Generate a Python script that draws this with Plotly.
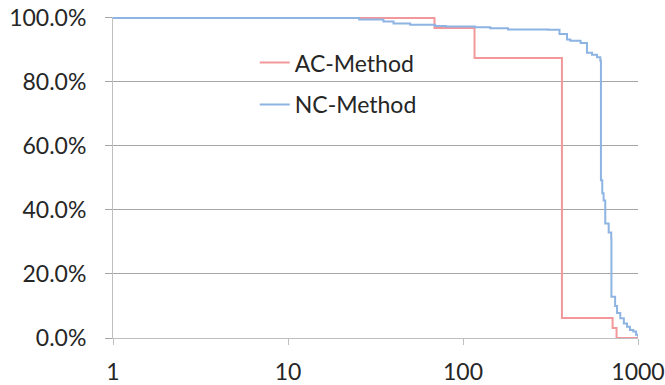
import plotly.graph_objects as go

# AC-Method: step survival curve (x = value on log axis, y = fraction remaining)
ac_x = [1, 68.7, 116.4, 367.6, 716, 754, 1000]
ac_y = [1.0, 0.96875, 0.875, 0.0625, 0.03125, 0.0, 0.0]

# NC-Method
nc_x = [1, 25.5, 35.1, 40.1, 49.9, 69.3, 79.8, 117, 143, 181, 307, 356, 393, 410,
        470, 511, 546, 583, 609, 614, 625, 636, 650, 680, 703, 705, 740, 759, 792,
        830, 865, 900, 940, 975, 1000]
nc_y = [1.0, 0.995, 0.989, 0.983, 0.979, 0.975, 0.973, 0.971, 0.968, 0.964, 0.963,
        0.950, 0.933, 0.929, 0.922, 0.891, 0.885, 0.877, 0.867, 0.493, 0.452, 0.430,
        0.358, 0.330, 0.311, 0.129, 0.100, 0.078, 0.062, 0.045, 0.035, 0.025, 0.020,
        0.010, 0.004]

x_ticks = [1, 10, 100, 1000]
x_tick_labels = ["1", "10", "100", "1000"]
y_ticks = [0, 0.2, 0.4, 0.6, 0.8, 1.0]

FONT = "Lato"
fig = go.Figure()
fig.add_trace(go.Scatter(x=ac_x, y=ac_y, mode="lines", name="AC-Method",
                         line=dict(color="#F2989A", width=2, shape="hv"),
                         legendgroup="a"))
fig.add_trace(go.Scatter(x=nc_x, y=nc_y, mode="lines", name="NC-Method",
                         line=dict(color="#8DB4E2", width=2, shape="hv"),
                         legendgroup="b"))

fig.update_layout(
    width=665, height=385,
    margin=dict(l=113, r=27, t=17, b=47, autoexpand=False),
    paper_bgcolor="white", plot_bgcolor="white",
    font=dict(family=FONT, size=23, color="#262626"),
    showlegend=True,
    legend=dict(x=0.27, y=0.925, xanchor="left", yanchor="top",
                bgcolor="rgba(0,0,0,0)", traceorder="grouped",
                tracegroupgap=9, font=dict(size=23)),
)
fig.update_xaxes(type="log", range=[0, 3], tickvals=x_ticks, ticktext=x_tick_labels,
                 showgrid=False, showline=True, linecolor="#BFBFBF", linewidth=1,
                 ticks="outside", ticklen=6, tickcolor="#BFBFBF", zeroline=False,
                 automargin=False, ticklabelstandoff=7)
fig.update_yaxes(range=[0, 1.003], tickvals=y_ticks, tickformat=".1%",
                 showgrid=True, gridcolor="#A6A6A6", gridwidth=1,
                 showline=True, linecolor="#BFBFBF", linewidth=1,
                 ticks="outside", ticklen=7, tickcolor="#A6A6A6", zeroline=False,
                 automargin=False, ticklabelstandoff=14)

fig.write_html("out.html", config={"displayModeBar": False},
               post_script="document.body.style.margin='0';document.body.style.overflow='hidden';")
